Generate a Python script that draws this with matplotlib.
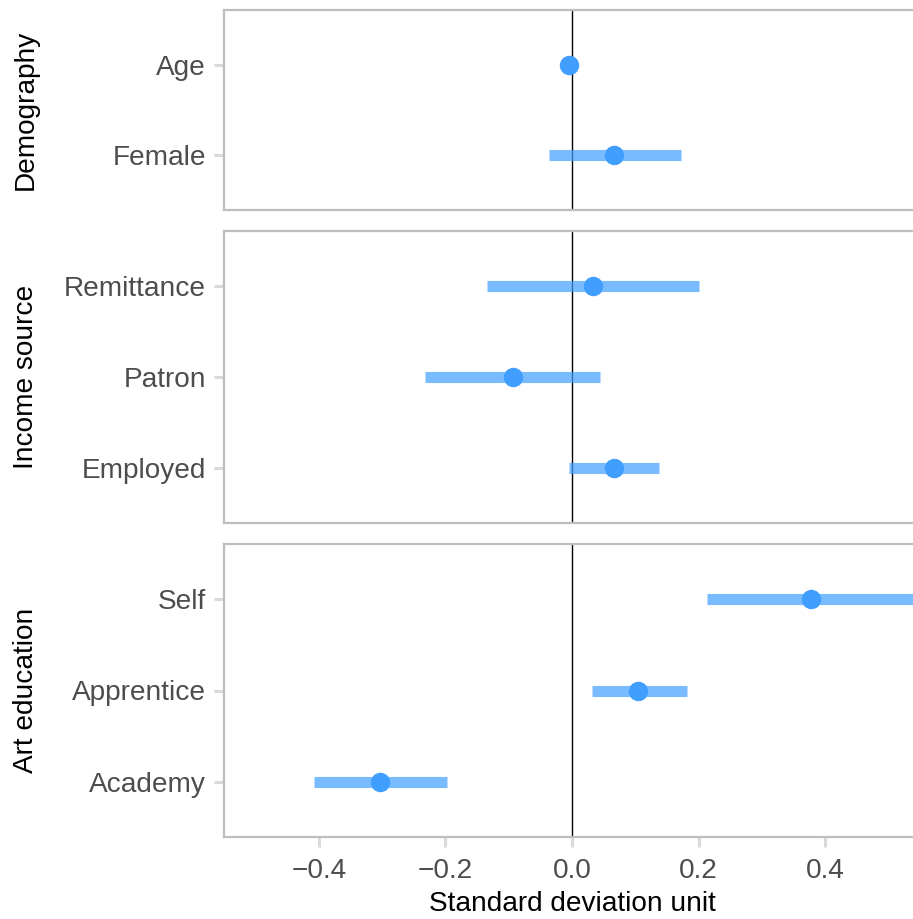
import matplotlib
matplotlib.use("Agg")
import matplotlib.pyplot as plt

plt.rcParams['font.family'] = ['Liberation Sans', 'DejaVu Sans']

groups = ["Demography", "Income source", "Art education"]
labels = [["Age", "Female"],
          ["Remittance", "Patron", "Employed"],
          ["Self", "Apprentice", "Academy"]]
estimates = [[-0.004, 0.067],
             [0.033, -0.094, 0.066],
             [0.378, 0.105, -0.303]]
lower = [[-0.008, -0.037],
         [-0.134, -0.232, -0.005],
         [0.214, 0.031, -0.407]]
upper = [[0.001, 0.172],
         [0.201, 0.044, 0.137],
         [0.560, 0.182, -0.198]]
xticks = [-0.4, -0.2, 0.0, 0.2, 0.4]

W, H = 913, 919
fig = plt.figure(figsize=(W / 100, H / 100), dpi=100)

panel_px = [(10, 210), (231, 523), (544, 837)]
left_px, right_px = 224, 920
col = "#409EFF"
grey_tick = "#4D4D4D"
spine_col = "#BEBEBE"
fs = 20.2

axes = []
for i, (g, labs) in enumerate(zip(groups, labels)):
    top, bot = panel_px[i]
    ax = fig.add_axes([left_px / W, 1 - bot / H, (right_px - left_px) / W, (bot - top) / H])
    n = len(labs)
    ys = list(range(1, n + 1))
    ax.axvline(0, color="black", lw=1.0, zorder=1)
    ax.hlines(ys, lower[i], upper[i], color=col, alpha=0.7, lw=8, zorder=2)
    ax.plot(estimates[i], ys, 'o', color=col, ms=14, mec='none', zorder=3)
    ax.set_ylim(n + 0.6, 0.4)
    ax.set_xlim(-0.55, 0.55)
    ax.set_yticks(ys)
    ax.set_yticklabels(labs)
    ax.set_xticks(xticks)
    for s in ["left", "top", "bottom"]:
        ax.spines[s].set_color(spine_col)
        ax.spines[s].set_linewidth(1.6)
    ax.spines["right"].set_visible(False)
    ax.tick_params(axis='y', length=7, width=2.2, color="#DADADA", labelsize=fs,
                   labelcolor=grey_tick, pad=6)
    ax.tick_params(axis='x', length=7, width=2.2, color="#DADADA", labelsize=fs,
                   labelcolor=grey_tick, pad=8)
    if i < 2:
        ax.tick_params(axis='x', bottom=False, labelbottom=False)
    fig.text(26 / W, 1 - ((top + bot) / 2) / H, g, rotation=90, ha='center', va='center',
             fontsize=fs, color="black")
    axes.append(ax)

axes[-1].set_xlabel("Standard deviation unit", fontsize=fs, color="black", labelpad=5)

fig.savefig("out.png", dpi=100)
